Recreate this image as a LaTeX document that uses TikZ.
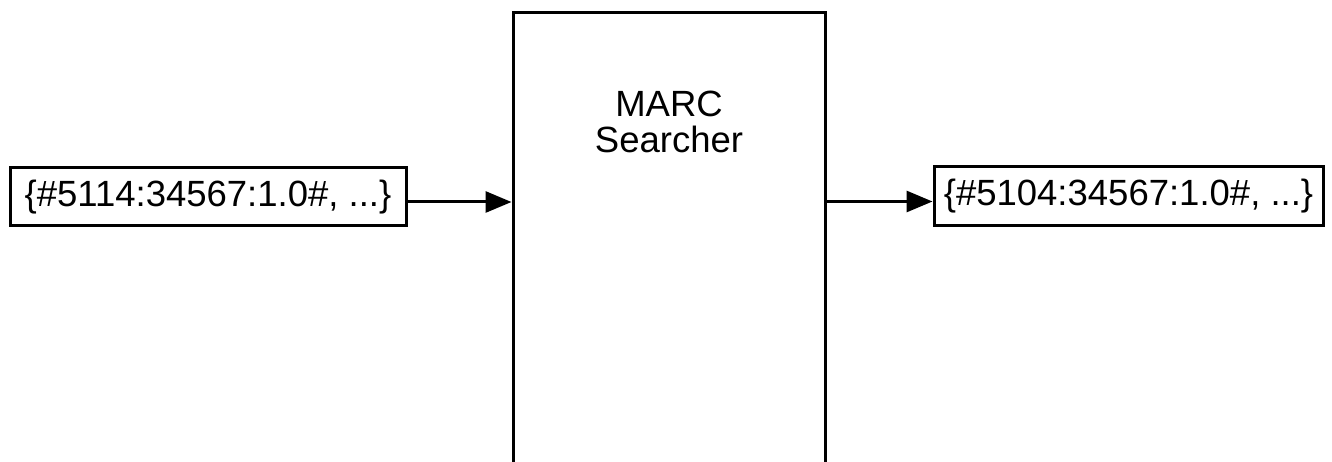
\documentclass[tikz,border=0pt]{standalone}
\usepackage{fontspec}
\setmainfont{Liberation Sans}
\usetikzlibrary{arrows.meta}
\begin{document}
\begin{tikzpicture}[x=1pt,y=-1pt,
  box/.style={draw=black,line width=3pt,inner sep=0pt,
    font=\fontsize{36.5}{40}\selectfont},
  bigbox/.style={draw=black,line width=3pt,inner sep=0pt,
    minimum width=312pt,minimum height=480pt},
  title/.style={align=center,inner sep=0pt,
    font=\fontsize{36.5}{36}\selectfont},
  arr/.style={line width=3pt,-{Triangle[length=26pt,width=21pt]}}]
\useasboundingbox (0,0) rectangle (1332,462);
\clip (0,0) rectangle (1332,462);
\fill[white] (0,0) rectangle (1332,462);
% central processing block, running off the lower edge
\node[bigbox,anchor=north] (searcher) at (669,11) {};
\node[title,anchor=base] (searchtitle) at (669,153) {MARC\\Searcher};
% input and output record lists
\node[box,minimum width=396pt,minimum height=58pt] (input) at (208,197) {\{\#5114:34567:1.0\#, ...\}};
\node[box,minimum width=389pt,minimum height=59pt] (output) at (1128.5,196.5) {\{\#5104:34567:1.0\#, ...\}};
% data flow
\draw[arr] ([yshift=-5pt]input.east) -- ([yshift=-5pt]input.east -| searcher.west);
\draw[arr] ([yshift=-5pt]output.west -| searcher.east) -- ([yshift=-5pt]output.west);
\end{tikzpicture}
\end{document}
